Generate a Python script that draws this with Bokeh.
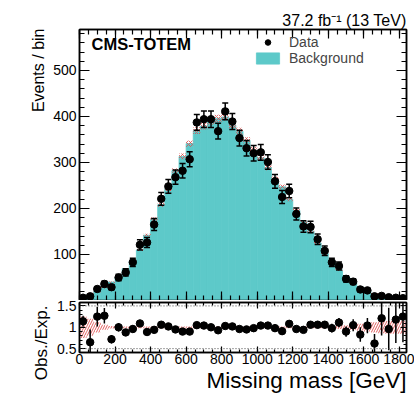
import math
from bokeh.plotting import figure
from bokeh.models import Range1d, FixedTicker, LinearAxis, Label, Legend, LegendItem, Span, Title
from bokeh.layouts import column
from bokeh.embed import file_html
from bokeh.resources import INLINE

FONT = "Liberation Sans"
TEAL = "#5dc9c9"

# ---- data (40 GeV bins, 0-1840 GeV) ----
edges = list(range(0, 1841, 40))
background = [5.2, 14, 20, 28, 40, 50, 69, 86, 110, 142, 177, 208, 243, 282, 313, 341,
              369, 379, 390, 396, 399, 381, 368, 348, 327, 310, 289, 264, 247, 220, 196,
              171, 151, 125, 102, 85, 67, 52, 39, 29, 21, 14.5, 8.3, 7.3, 5.1, 4]
bkg_unc = [0.25, 0.2, 0.12, 0.06, 0.03, 0.02, 0.02, 0.02, 0.02, 0.02, 0.02, 0.02, 0.02, 0.02,
           0.02, 0.02, 0.02, 0.02, 0.02, 0.02, 0.02, 0.02, 0.02, 0.02, 0.02, 0.02, 0.02, 0.02,
           0.02, 0.02, 0.02, 0.02, 0.02, 0.02, 0.02, 0.03, 0.04, 0.05, 0.06, 0.08, 0.1, 0.12,
           0.14, 0.15, 0.15, 0.15]
data = [6, 9, 25, 36, 29, 50, 61, 83, 121, 126, 165, 221, 248, 268, 282, 307, 387, 394, 394,
        368, 411, 389, 353, 331, 320, 322, 301, 259, 225, 238, 188, 161, 160, 133, 108, 83,
        75, 47, 41, 24, 22, 9, 10, 7, 6, 5]
data_err = [2.5, 3, 5, 6, 5.4, 7, 7.8, 9, 11, 11, 13, 14, 15, 15.5, 16, 16.5, 17, 18, 18, 17,
            18, 17.5, 17, 17, 17, 17, 16, 15, 14, 14.5, 13, 12.5, 12.5, 11.5, 10.4, 9, 8.7,
            7, 6.4, 5, 4.7, 3, 3.2, 2.6, 2.4, 2.2]
ratio = [1.14, 0.65, 1.25, 1.27, 0.72, 1.0, 0.88, 0.96, 1.09, 0.89, 0.94, 1.06, 1.02, 0.95,
         0.9, 0.9, 1.05, 1.04, 1.0, 0.93, 1.03, 1.02, 0.96, 0.95, 0.98, 1.04, 1.04, 0.98,
         0.91, 1.08, 0.96, 0.94, 1.06, 1.06, 1.06, 0.98, 1.11, 0.9, 1.05, 0.83, 1.04, 0.62,
         1.21, 0.96, 1.18, 1.25]
ratio_err = [0.13, 0.3, 0.23, 0.18, 0.1, 0.1, 0.08, 0.08, 0.08, 0.07, 0.06, 0.06, 0.05, 0.05,
             0.05, 0.05, 0.05, 0.05, 0.05, 0.05, 0.05, 0.05, 0.05, 0.05, 0.05, 0.05, 0.05,
             0.05, 0.06, 0.06, 0.07, 0.07, 0.08, 0.08, 0.09, 0.1, 0.11, 0.12, 0.14, 0.17,
             0.18, 0.22, 0.4, 0.5, 0.55, 0.6]
x_ticks = [0, 200, 400, 600, 800, 1000, 1200, 1400, 1600, 1800]
x_minor = list(range(0, 1841, 50))
y_ticks = [100, 200, 300, 400, 500]
y_minor = list(range(0, 590, 20))
r_ticks = [0.5, 1, 1.5]
r_minor = [0.5, 0.6, 0.7, 0.8, 0.9, 1.0, 1.1, 1.2, 1.3, 1.4, 1.5]

x_lo = edges[:-1]
x_hi = edges[1:]
x_c = [(a + b) / 2 for a, b in zip(x_lo, x_hi)]
band_lo = [b * (1 - u) for b, u in zip(background, bkg_unc)]
band_hi = [b * (1 + u) for b, u in zip(background, bkg_unc)]
d_lo = [d - e for d, e in zip(data, data_err)]
d_hi = [d + e for d, e in zip(data, data_err)]
r_band_lo = [1 - u for u in bkg_unc]
r_band_hi = [1 + u for u in bkg_unc]
r_lo = [r - e for r, e in zip(ratio, ratio_err)]
r_hi = [r + e for r, e in zip(ratio, ratio_err)]

XR = Range1d(0, 1840)


def style_axis(ax, ticks, minor, tin, tmin, labels=True, fs="14px", standoff=2, overrides=None):
    ax.ticker = FixedTicker(ticks=ticks, minor_ticks=minor)
    ax.major_tick_in = tin
    ax.major_tick_out = 0
    ax.minor_tick_in = tmin
    ax.minor_tick_out = 0
    ax.axis_line_width = 1.5
    ax.axis_line_color = "black"
    ax.major_tick_line_width = 1.2
    ax.minor_tick_line_width = 1.2
    ax.major_tick_line_color = "black"
    ax.minor_tick_line_color = "black"
    if labels:
        ax.major_label_text_font = FONT
        ax.major_label_text_font_size = fs
        ax.major_label_text_color = "black"
        ax.major_label_standoff = standoff
    else:
        ax.major_label_text_font_size = "0px"
        ax.major_label_text_color = None
        ax.major_label_standoff = 0
    if overrides:
        ax.major_label_overrides = overrides


def side_title(p, text, side, size, standoff, offset=0, valign="bottom"):
    p.add_layout(Title(text=text, align="right", vertical_align=valign, text_font=FONT,
                       text_font_size=size, text_font_style="normal", text_color="black",
                       standoff=standoff, offset=offset), side)


# ---- main panel ----
p1 = figure(x_range=XR, y_range=Range1d(0, 589), frame_width=327, frame_height=271,
            min_border_left=79, min_border_right=8, min_border_top=29, min_border_bottom=0,
            output_backend="svg", toolbar_location=None)
p1.grid.visible = False
p1.outline_line_color = "black"
p1.outline_line_width = 1.5
p1.background_fill_color = "white"
p1.border_fill_color = "white"

style_axis(p1.xaxis[0], x_ticks, x_minor, 9, 5, labels=False)
style_axis(p1.yaxis[0], y_ticks, y_minor, 10, 5, standoff=3)
top1 = LinearAxis()
style_axis(top1, x_ticks, x_minor, 9, 5, labels=False)
p1.add_layout(top1, "above")
right1 = LinearAxis()
style_axis(right1, y_ticks, y_minor, 10, 5, labels=False)
p1.add_layout(right1, "right")

r_bkg = p1.quad(left=x_lo, right=x_hi, bottom=0, top=background, fill_color=TEAL,
                line_color=TEAL, line_width=0.8)
p1.quad(left=x_lo, right=x_hi, bottom=band_lo, top=band_hi, fill_color=None, line_color=None,
        hatch_pattern="x", hatch_color="#e04848", hatch_scale=4, hatch_weight=0.8)
p1.segment(x0=x_c, y0=d_lo, x1=x_c, y1=d_hi, line_color="black", line_width=1.5)
p1.scatter(x=x_c + x_c, y=d_lo + d_hi, marker="dash", size=6, line_color="black",
           line_width=1.5)
r_data = p1.scatter(x=x_c, y=data, size=7.5, fill_color="black", line_color="black")
r_leg_bar = p1.scatter(x=[], y=[], marker="dash", angle=math.pi / 2, size=14,
                       line_color="black", line_width=1.5)

legend = Legend(items=[LegendItem(label="Data", renderers=[r_leg_bar, r_data]),
                       LegendItem(label="Background", renderers=[r_bkg])],
                location=(174, 234), padding=0, margin=0, spacing=0,
                glyph_width=29, glyph_height=14, label_standoff=7, label_height=12,
                label_text_font=FONT, label_text_font_size="14px",
                border_line_alpha=0, background_fill_alpha=0)
p1.add_layout(legend)

p1.add_layout(Label(x=12, y=247.5, x_units="screen", y_units="screen", text="CMS-TOTEM",
                    text_font=FONT, text_font_size="16.5px", text_font_style="bold",
                    text_color="black"))
side_title(p1, "37.2 fb\u207b\u00b9 (13 TeV)", "above", "16px", 1)
side_title(p1, "Events / bin", "left", "16px", 7, offset=-1)

# ---- ratio panel ----
p2 = figure(x_range=XR, y_range=Range1d(0.41, 1.58), frame_width=327, frame_height=50,
            min_border_left=79, min_border_right=8, min_border_top=2, min_border_bottom=44,
            output_backend="svg", toolbar_location=None)
p2.grid.visible = False
p2.outline_line_color = "black"
p2.outline_line_width = 1.5
p2.background_fill_color = "white"
p2.border_fill_color = "white"

style_axis(p2.xaxis[0], x_ticks, x_minor, 6, 3, standoff=1)
style_axis(p2.yaxis[0], r_ticks, r_minor, 6, 3, standoff=3,
           overrides={0.5: "0.5", 1: "1", 1.5: "1.5"})
top2 = LinearAxis()
style_axis(top2, x_ticks, x_minor, 6, 3, labels=False)
p2.add_layout(top2, "above")
right2 = LinearAxis()
style_axis(right2, r_ticks, r_minor, 6, 3, labels=False)
p2.add_layout(right2, "right")

for loc in (0.5, 1.5):
    p2.add_layout(Span(location=loc, dimension="width", line_color="#444444",
                       line_width=1, line_dash="1 2"))
p2.quad(left=x_lo, right=x_hi, bottom=r_band_lo, top=r_band_hi, fill_color=None,
        line_color=None, hatch_pattern="/", hatch_color="#e05c5c", hatch_scale=5,
        hatch_weight=1)
p2.segment(x0=x_c, y0=r_lo, x1=x_c, y1=r_hi, line_color="black", line_width=1.5)
p2.scatter(x=x_c, y=ratio, size=7.5, fill_color="black", line_color="black")

side_title(p2, "Obs./Exp.", "left", "17px", 7, offset=3)
side_title(p2, "Missing mass [GeV]", "below", "22.5px", 2, valign="top")

layout = column(p1, p2, spacing=0)
open("out.html", "w").write(file_html(layout, INLINE))
